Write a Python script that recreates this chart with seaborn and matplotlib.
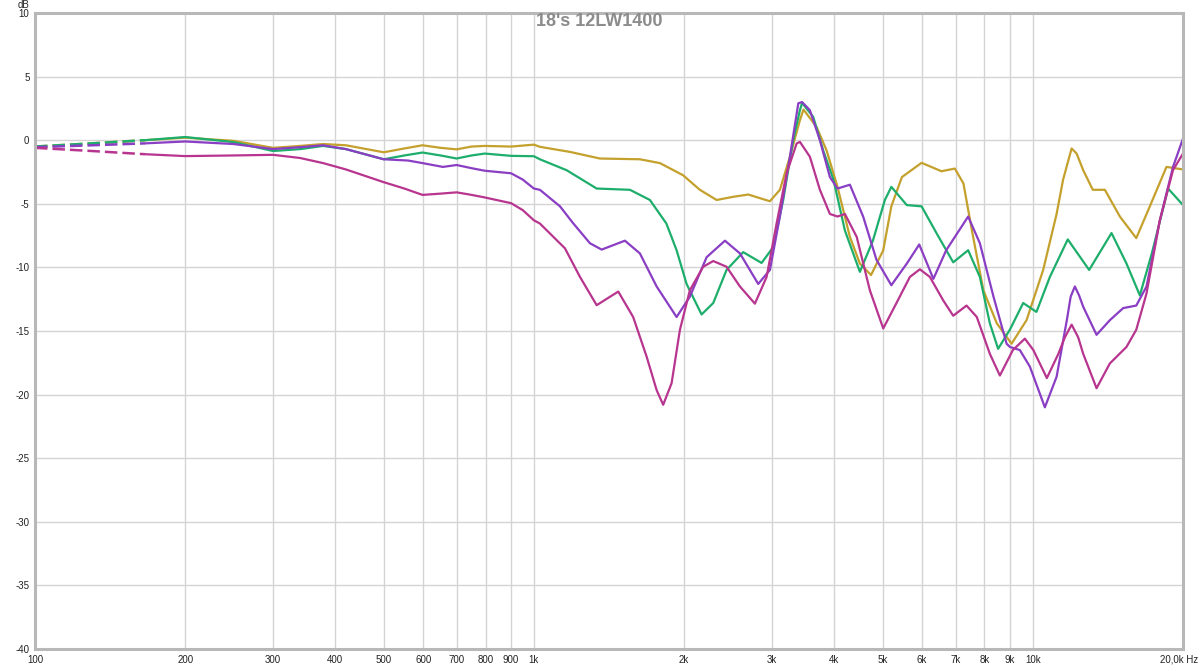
import numpy as np
import pandas as pd
import matplotlib
matplotlib.use('Agg')
import matplotlib.pyplot as plt
from matplotlib.ticker import NullLocator
from matplotlib.transforms import ScaledTranslation
import seaborn as sns

# values (frequency in Hz, level in dB)
gold_f = [100, 130, 166, 200, 250, 300, 340, 378, 420, 500, 550, 598, 650, 700, 750, 797, 900, 1000, 1028, 1181,
          1356, 1631, 1789, 1990, 2151, 2324, 2509, 2689, 2972, 3112, 3259, 3413, 3470, 3685, 3860, 4060, 4299,
          4502, 4740, 5014, 5205, 5465, 5985, 6560, 6978, 7260, 7550, 7960, 8470, 9065, 9715, 10490, 11160,
          11500, 11960, 12240, 12620, 13190, 13945, 14944, 16120, 17161, 18530, 20000]
gold_db = [-0.5, -0.25, 0.0, 0.2, -0.05, -0.6, -0.45, -0.3, -0.4, -0.95, -0.65, -0.4, -0.6, -0.72, -0.5, -0.45,
           -0.5, -0.35, -0.52, -0.92, -1.44, -1.5, -1.8, -2.75, -3.9, -4.7, -4.45, -4.27, -4.8, -3.9, -1.3, 1.57,
           2.41, 1.05, -0.8, -3.67, -7.6, -9.7, -10.6, -8.65, -5.2, -2.9, -1.78, -2.44, -2.23, -3.4, -7.1, -11.8,
           -14.4, -16.0, -14.15, -10.2, -5.8, -3.1, -0.65, -1.05, -2.36, -3.9, -3.9, -6.0, -7.7, -5.2, -2.1, -2.3]

green_f = [100, 130, 166, 200, 250, 300, 340, 378, 420, 500, 550, 598, 650, 700, 750, 797, 900, 1000, 1028, 1163,
           1237, 1336, 1558, 1708, 1843, 1932, 2023, 2168, 2288, 2433, 2627, 2860, 3018, 3160, 3309, 3413, 3448,
           3630, 3800, 3985, 4201, 4502, 4780, 5052, 5205, 5590, 5985, 6410, 6925, 7420, 7832, 8202, 8520, 8995,
           9565, 10170, 10819, 11750, 12970, 14380, 15410, 16388, 17320, 18670, 20000]
green_db = [-0.5, -0.25, 0.0, 0.25, -0.15, -0.85, -0.7, -0.45, -0.7, -1.5, -1.2, -0.97, -1.2, -1.44, -1.2, -1.05,
            -1.23, -1.26, -1.5, -2.36, -3.0, -3.8, -3.9, -4.7, -6.55, -8.65, -11.3, -13.7, -12.8, -10.2, -8.8,
            -9.65, -8.4, -4.7, 0.0, 2.36, 2.93, 1.83, -0.8, -3.1, -7.1, -10.35, -7.9, -4.7, -3.67, -5.1, -5.2,
            -7.3, -9.6, -8.65, -10.75, -14.4, -16.4, -14.9, -12.8, -13.5, -10.75, -7.8, -10.2, -7.3, -9.7, -12.2,
            -8.9, -3.8, -5.1]

purple_f = [100, 130, 166, 200, 250, 300, 340, 378, 420, 500, 560, 598, 657, 700, 750, 797, 900, 950, 1000, 1028,
            1128, 1197, 1295, 1367, 1522, 1631, 1762, 1932, 2054, 2219, 2415, 2588, 2816, 2972, 3112, 3259, 3388,
            3448, 3574, 3743, 3920, 4060, 4299, 4570, 4860, 5205, 5590, 5920, 6320, 6705, 7420, 7832, 8340, 8860,
            8995, 9420, 9865, 10572, 11160, 11700, 11910, 12142, 12380, 12620, 13420, 14270, 15175, 16120, 16900,
            17972, 19100, 20000]
purple_db = [-0.55, -0.4, -0.25, -0.1, -0.3, -0.7, -0.55, -0.4, -0.7, -1.5, -1.6, -1.8, -2.1, -1.95, -2.2, -2.4,
             -2.6, -3.1, -3.8, -3.9, -5.2, -6.5, -8.1, -8.6, -7.9, -8.9, -11.5, -13.9, -12.3, -9.2, -7.9, -8.9,
             -11.3, -10.2, -6.0, -1.3, 2.9, 3.0, 2.36, 0.0, -2.9, -3.8, -3.5, -6.0, -9.4, -11.4, -9.7, -8.2, -10.9,
             -8.65, -6.0, -8.1, -12.3, -16.0, -16.25, -16.5, -17.8, -21.0, -18.6, -14.15, -12.3, -11.5, -12.2,
             -13.1, -15.3, -14.15, -13.2, -13.0, -11.5, -6.3, -2.1, 0.13]

magenta_f = [100, 130, 166, 200, 250, 300, 340, 378, 420, 500, 550, 598, 650, 700, 750, 797, 900, 950, 1000, 1028,
             1154, 1237, 1336, 1476, 1581, 1682, 1762, 1816, 1888, 1962, 2054, 2184, 2288, 2433, 2588, 2773, 2927,
             3065, 3210, 3362, 3413, 3574, 3743, 3920, 4060, 4201, 4436, 4714, 5014, 5330, 5670, 5938, 6218, 6615,
             6925, 7365, 7722, 8202, 8590, 9120, 9640, 10025, 10670, 11250, 11594, 11960, 12330, 12620, 13420,
             14270, 15410, 16120, 16900, 17972, 19100, 20000]
magenta_db = [-0.6, -0.85, -1.1, -1.25, -1.2, -1.15, -1.4, -1.8, -2.3, -3.3, -3.8, -4.3, -4.2, -4.1, -4.3, -4.5,
              -4.95, -5.5, -6.3, -6.55, -8.5, -10.75, -12.97, -11.9, -13.9, -17.0, -19.65, -20.8, -19.1, -14.9,
              -11.8, -9.95, -9.5, -9.95, -11.5, -12.85, -10.75, -6.55, -2.6, -0.26, -0.13, -1.3, -3.9, -5.8, -6.0,
              -5.8, -7.6, -11.8, -14.8, -12.8, -10.75, -10.15, -10.75, -12.6, -13.8, -13.0, -13.9, -16.8, -18.5,
              -16.5, -15.6, -16.5, -18.7, -16.8, -15.5, -14.5, -15.5, -16.8, -19.5, -17.55, -16.25, -14.9, -12.05,
              -6.3, -2.35, -1.05]

series = [
    ('gold', gold_f, gold_db, '#C4A02C'),
    ('green', green_f, green_db, '#1EAE6C'),
    ('purple', purple_f, purple_db, '#8A3EC4'),
    ('magenta', magenta_f, magenta_db, '#B8358F'),
]

tick_freqs = [100, 200, 300, 400, 500, 600, 700, 800, 900, 1000, 2000, 3000, 4000, 5000, 6000, 7000, 8000,
              9000, 10000, 20000]
tick_labels = ['100', '200', '300', '400', '500', '600', '700', '800', '900', '1k', '2k', '3k', '4k', '5k', '6k',
               '7k', '8k', '9k', '10k', '20,0k Hz']
db_ticks = [10, 5, 0, -5, -10, -15, -20, -25, -30, -35, -40]
dashed_until = 166

sns.set_style('white')
plt.rcParams['font.family'] = ['Liberation Sans', 'DejaVu Sans']

fig = plt.figure(figsize=(12, 6.67), dpi=100)
ax = fig.add_axes([35 / 1200, 1 - 649 / 667, (1183 - 35) / 1200, (649 - 13) / 667])

for name, f, db, col in series:
    df = pd.DataFrame({'freq': f, 'db': db})
    low = df[df.freq <= dashed_until]
    high = df[df.freq >= dashed_until]
    sns.lineplot(data=low, x='freq', y='db', color=col, lw=1.8, linestyle=(0, (5, 2)),
                 estimator=None, sort=False, ax=ax)
    sns.lineplot(data=high, x='freq', y='db', color=col, lw=1.6, estimator=None, sort=False, ax=ax)

ax.set_xscale('log')
ax.set_xlim(100, 20000)
ax.set_ylim(-40, 10)
ax.set_xticks(tick_freqs)
ax.set_xticklabels(tick_labels)
ax.xaxis.set_minor_locator(NullLocator())
ax.set_yticks(db_ticks)
ax.set_yticklabels([str(v) for v in db_ticks])
ax.tick_params(axis='both', length=0, labelsize=7, labelcolor='#222222')
ax.tick_params(axis='x', pad=4)
ax.tick_params(axis='y', pad=4)
# keep the last frequency label inside the picture
last = ax.get_xticklabels()[-1]
last.set_transform(last.get_transform() + ScaledTranslation(-4 / 100, 0, fig.dpi_scale_trans))
ax.set_xlabel('')
ax.set_ylabel('')
ax.grid(True, color='#D4D4D4', lw=1)
ax.set_axisbelow(True)
for sp in ax.spines.values():
    sp.set_visible(True)
    sp.set_color('#B8B8B8')
    sp.set_linewidth(2.2)

fig.text(24 / 1200, 1 - 5 / 667, 'dB', ha='center', va='center', fontsize=7, color='#222222')
fig.text(599 / 1200, 1 - 21 / 667, "18's 12LW1400", ha='center', va='center', fontsize=13,
         fontweight='bold', color='#8C8C8C')

fig.savefig('out.png', dpi=100)
